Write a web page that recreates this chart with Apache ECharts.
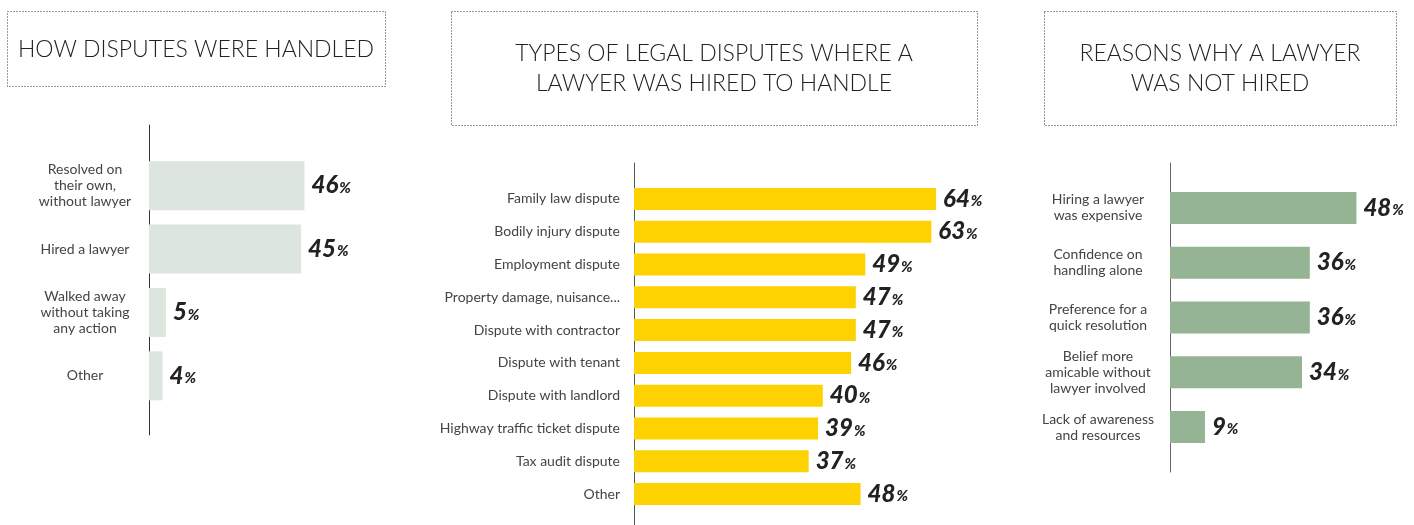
<!DOCTYPE html>
<html>
<head>
<meta charset="utf-8">
<script src="https://cdn.jsdelivr.net/npm/echarts@6/dist/echarts.min.js"></script>
<style>
  html, body { margin: 0; padding: 0; background: #ffffff; }
  #chart { width: 1414px; height: 525px; }
</style>
</head>
<body>
<div id="chart"></div>
<script>
// Survey results: how disputes were handled, where lawyers were hired, why not
const handledCategories = ['Resolved on\ntheir own,\nwithout lawyer', 'Hired a lawyer', 'Walked away\nwithout taking\nany action', 'Other'];
const handledValues = [46, 45, 5, 4];

const typeCategories = ['Family law dispute', 'Bodily injury dispute', 'Employment dispute', 'Property damage, nuisance...', 'Dispute with contractor', 'Dispute with tenant', 'Dispute with landlord', 'Highway traffic ticket dispute', 'Tax audit dispute', 'Other'];
const typeValues = [64, 63, 49, 47, 47, 46, 40, 39, 37, 48];

const reasonCategories = ['Hiring a lawyer\nwas expensive', 'Confidence on\nhandling alone', 'Preference for a\nquick resolution', 'Belief more\namicable without\nlawyer involved', 'Lack of awareness\nand resources'];
const reasonValues = [48, 36, 36, 34, 9];

const titles = ['HOW DISPUTES WERE HANDLED', 'TYPES OF LEGAL DISPUTES WHERE A\nLAWYER WAS HIRED TO HANDLE', 'REASONS WHY A LAWYER\nWAS NOT HIRED'];

const FONT = 'Lato, "Open Sans", sans-serif';

const valueLabel = {
  show: true,
  position: 'right',
  distance: 7,
  formatter: p => '{v|' + p.value + '}{p|%}',
  rich: {
    v: { fontFamily: FONT, fontSize: 24, fontWeight: 900, fontStyle: 'italic', color: '#222' },
    p: { fontFamily: FONT, fontSize: 15, fontWeight: 900, fontStyle: 'italic', color: '#222', padding: [5, 0, 0, 1] }
  }
};

const chart = echarts.init(document.getElementById('chart'), null, { renderer: 'canvas' });

// panel layout: bar grid (value axis 0..max over width), plus a taller grid
// that only carries the vertical axis line
const panels = [
  { left: 149, width: 338, max: 100, barTop: 154, barBottom: 407.5, lineTop: 125, lineBottom: 435, axisColor: '#333' },
  { left: 634, width: 472, max: 100, barTop: 182.5, barBottom: 510.5, lineTop: 163, lineBottom: 525, axisColor: '#555' },
  { left: 1170, width: 233, max: 60, barTop: 180.6, barBottom: 454.4, lineTop: 163, lineBottom: 472, axisColor: '#666' }
];

const grid = [];
const xAxis = [];
const yAxis = [];
panels.forEach(p => {
  grid.push({ left: p.left, width: p.width, top: p.barTop, height: p.barBottom - p.barTop, containLabel: false });
});
panels.forEach(p => {
  grid.push({ left: p.left, width: 10, top: p.lineTop, height: p.lineBottom - p.lineTop, containLabel: false });
});

const catSets = [handledCategories, typeCategories, reasonCategories];
const labelCfg = [
  { align: 'center', margin: 64, lineHeight: 16 },
  { align: 'right', margin: 14, lineHeight: 16 },
  { align: 'center', margin: 72, lineHeight: 16 }
];

for (let i = 0; i < 3; i++) {
  xAxis.push({ gridIndex: i, type: 'value', min: 0, max: panels[i].max, show: false });
  yAxis.push({
    gridIndex: i, type: 'category', data: catSets[i], inverse: true,
    axisLine: { show: false }, axisTick: { show: false }, splitLine: { show: false },
    axisLabel: {
      fontFamily: FONT, fontSize: 14, color: '#444',
      align: labelCfg[i].align, margin: labelCfg[i].margin, lineHeight: labelCfg[i].lineHeight
    }
  });
}
for (let i = 0; i < 3; i++) {
  xAxis.push({ gridIndex: 3 + i, type: 'value', min: 0, max: 1, show: false });
  yAxis.push({
    gridIndex: 3 + i, type: 'value', min: 0, max: 1,
    axisLine: { show: true, onZero: false, lineStyle: { color: panels[i].axisColor, width: 1 } },
    axisTick: { show: false }, axisLabel: { show: false }, splitLine: { show: false }
  });
}

const barHeights = [49, 22, 32];
const colors = ['#dce6de', '#fdd200', '#94b494'];
const valueSets = [handledValues, typeValues, reasonValues];

const series = valueSets.map((vals, i) => ({
  type: 'bar',
  xAxisIndex: i,
  yAxisIndex: i,
  data: vals,
  barWidth: barHeights[i],
  itemStyle: { color: colors[i] },
  label: valueLabel,
  silent: true,
  animation: false
}));

const titleCenters = [196, 714, 1220];
const titleTops = [35, 39, 39];
const title = titles.map((t, i) => ({
  text: t,
  left: titleCenters[i],
  top: titleTops[i],
  textAlign: 'center',
  padding: 0,
  textStyle: { fontFamily: FONT, fontSize: 23, fontWeight: 300, color: '#222', lineHeight: 30 }
}));

// dotted frames around the three headings
const boxes = [
  { x: 7.5, y: 11.5, w: 378, h: 75 },
  { x: 451.5, y: 11.5, w: 526, h: 114 },
  { x: 1044.5, y: 11.5, w: 352, h: 114 }
];
const graphic = boxes.map(b => ({
  type: 'rect',
  shape: { x: b.x, y: b.y, width: b.w, height: b.h },
  style: { fill: 'none', stroke: '#333', lineWidth: 1, lineDash: [1, 2] },
  silent: true
}));

chart.setOption({
  backgroundColor: '#ffffff',
  animation: false,
  title,
  grid,
  xAxis,
  yAxis,
  series,
  graphic
});
</script>
</body>
</html>
